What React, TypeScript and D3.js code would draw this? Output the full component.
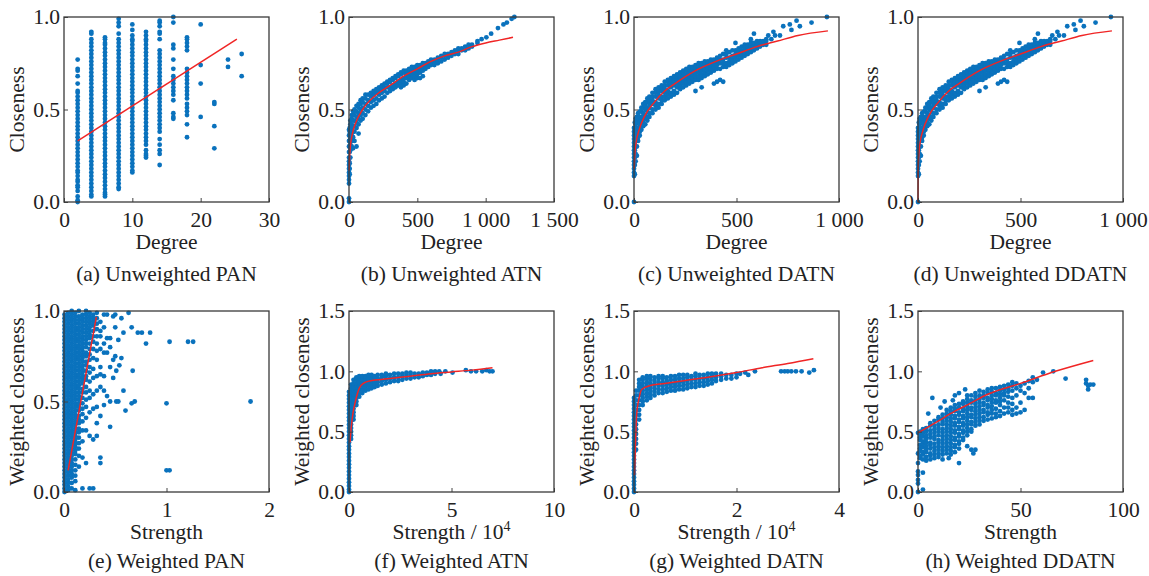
import { useEffect, useRef } from "react";
import * as d3 from "d3";

// each entry: [x value, closeness values x100]
type Col = [number, number[]];
type Pt = [number, number];

// (a) unweighted PAN, degree -> closeness
const uwPan: Col[] = [
  [2, [0, 1, 3, 6, 8, 9, 11, 12, 14, 16, 17, 19, 21, 23, 25, 27, 29, 31, 33, 35, 37, 39, 41, 43, 45, 47, 49, 51, 53, 55, 57, 59, 60, 64, 68, 71, 72, 77]],
  [4, [3, 4, 6, 8, 10, 12, 14, 16, 18, 20, 22, 24, 26, 28, 30, 32, 34, 36, 38, 40, 42, 44, 46, 48, 50, 52, 54, 56, 58, 60, 62, 64, 66, 68, 70, 72, 74, 76, 78, 80, 82, 84, 86, 88, 91, 92]],
  [6, [3, 4, 5, 7, 9, 11, 13, 15, 17, 19, 21, 23, 25, 27, 29, 31, 33, 35, 37, 39, 41, 43, 45, 47, 49, 51, 53, 55, 57, 59, 61, 63, 65, 67, 69, 71, 73, 75, 77, 79, 81, 83, 85, 86, 88, 89]],
  [8, [7, 8, 10, 12, 14, 16, 18, 20, 22, 24, 26, 28, 30, 32, 34, 36, 38, 40, 42, 44, 46, 48, 50, 52, 54, 56, 58, 60, 62, 64, 66, 68, 70, 72, 74, 76, 78, 80, 82, 84, 86, 88, 91, 95, 97, 99]],
  [10, [16, 17, 19, 21, 23, 25, 27, 29, 31, 33, 35, 37, 39, 41, 43, 45, 47, 49, 51, 53, 55, 57, 59, 61, 63, 65, 67, 69, 71, 73, 75, 77, 79, 81, 83, 85, 87, 88, 90, 93, 96]],
  [12, [24, 25, 26, 28, 31, 33, 35, 37, 39, 41, 43, 45, 47, 49, 51, 53, 55, 57, 59, 61, 63, 65, 67, 69, 71, 73, 75, 77, 79, 81, 83, 85, 87, 88, 90, 92]],
  [14, [20, 26, 28, 31, 34, 38, 40, 42, 44, 46, 48, 50, 52, 54, 56, 58, 60, 62, 64, 66, 68, 70, 72, 74, 76, 78, 80, 82, 88, 91, 92, 95, 97, 98]],
  [16, [45, 46, 48, 55, 58, 60, 62, 64, 66, 68, 72, 77, 83, 85, 97, 100]],
  [18, [35, 42, 47, 49, 51, 53, 56, 58, 60, 62, 64, 66, 68, 70, 72, 82, 84, 86, 88, 89]],
  [20, [46, 64, 74, 96]],
  [22, [29, 41, 53, 54]],
  [24, [73, 77]],
  [26, [68, 80]],
];
const uwPanFit: Pt[] = [[2, 0.33], [25.3, 0.88]];

// (b) unweighted ATN
const uwAtn: Col[] = [
  [0, [0, 2, 10, 12, 14, 16, 18, 20, 22, 24, 27, 30, 33, 36, 39]],
  [5, [15, 18, 21, 24, 27, 30, 33, 36, 38, 40]],
  [10, [24, 28, 31, 34, 37, 40, 42, 44]],
  [20, [30, 33, 36, 39, 42, 45, 47]],
  [30, [29, 35, 38, 41, 44, 47, 49]],
  [40, [33, 38, 41, 44, 47, 50]],
  [55, [30, 40, 43, 46, 49, 52]],
  [70, [37, 42, 45, 48, 51, 53]],
  [85, [44, 47, 50, 53, 55]],
  [100, [45, 48, 51, 54, 56]],
  [120, [47, 50, 53, 56, 58]],
  [140, [49, 52, 55, 58]],
  [160, [51, 54, 57, 59]],
  [180, [52, 55, 58, 60]],
  [200, [53, 56, 59, 61]],
  [220, [55, 58, 60, 62]],
  [240, [56, 59, 61, 63]],
  [260, [57, 60, 62, 64]],
  [280, [59, 62, 64, 65]],
  [300, [60, 62, 65, 66]],
  [320, [61, 63, 66, 67]],
  [340, [62, 64, 67, 68]],
  [360, [63, 65, 68, 69]],
  [380, [62, 64, 66, 69, 70]],
  [400, [63, 65, 67, 70, 71]],
  [420, [64, 67, 69, 71]],
  [440, [66, 68, 70, 72]],
  [460, [67, 69, 71, 73]],
  [480, [66, 68, 70, 72, 73]],
  [500, [67, 69, 71, 73, 74]],
  [520, [67, 70, 72, 74]],
  [540, [68, 71, 73, 75]],
  [560, [72, 74, 75]],
  [580, [73, 75, 76]],
  [600, [74, 75, 77]],
  [625, [74, 76, 77]],
  [650, [75, 77, 78]],
  [675, [76, 78, 79]],
  [700, [77, 79, 80]],
  [725, [78, 80]],
  [750, [79, 81]],
  [775, [80, 82]],
  [800, [80, 82, 83]],
  [825, [82, 83]],
  [850, [82, 84]],
  [875, [83, 85]],
  [900, [84, 85]],
  [940, [86, 87]],
  [970, [88]],
  [1005, [89]],
  [1040, [91]],
  [1090, [94]],
  [1130, [96]],
  [1155, [97]],
  [1190, [99]],
  [1210, [100]],
];
const uwAtnFit: Pt[] = [
  [1, 0.17], [5, 0.25], [10, 0.3], [25, 0.37], [50, 0.43], [100, 0.5], [200, 0.58], [300, 0.63],
  [400, 0.68], [500, 0.72], [600, 0.76], [700, 0.79], [800, 0.81], [900, 0.84], [1000, 0.86], [1100, 0.875], [1200, 0.89],
];

// (c) unweighted DATN
const uwDatn: Col[] = [
  [0, [0, 14, 16, 18, 20, 22, 24, 26, 28, 30, 32, 34, 36, 38, 40]],
  [4, [15, 20, 24, 28, 31, 34, 37, 40, 43]],
  [8, [22, 26, 30, 33, 36, 39, 42, 45]],
  [14, [25, 30, 34, 37, 40, 43, 46]],
  [20, [33, 35, 38, 40, 43, 45, 48]],
  [28, [36, 38, 41, 43, 46, 49]],
  [36, [39, 41, 44, 46, 49, 51]],
  [45, [41, 43, 46, 48, 51, 53]],
  [55, [42, 45, 47, 50, 52, 54]],
  [65, [44, 46, 49, 51, 54, 56]],
  [75, [46, 48, 51, 53, 55, 57]],
  [90, [48, 50, 53, 55, 57, 59]],
  [105, [50, 52, 54, 57, 59, 61]],
  [120, [51, 53, 56, 58, 60, 62]],
  [135, [53, 55, 57, 60, 62, 63]],
  [150, [55, 57, 59, 61, 63, 65]],
  [165, [56, 58, 60, 63, 65, 66]],
  [180, [57, 59, 62, 64, 66, 67]],
  [195, [58, 60, 63, 65, 67, 68]],
  [210, [59, 62, 64, 66, 68, 69]],
  [225, [61, 63, 65, 67, 69, 70]],
  [240, [62, 64, 66, 68, 70, 71]],
  [255, [63, 65, 67, 69, 71, 72]],
  [270, [64, 66, 68, 70, 72, 73]],
  [285, [65, 67, 69, 71, 73]],
  [300, [60, 66, 68, 70, 72, 74]],
  [315, [66, 68, 70, 72, 74, 75]],
  [330, [62, 67, 69, 71, 73, 75]],
  [345, [68, 70, 72, 74, 76]],
  [360, [69, 71, 73, 75, 76]],
  [375, [70, 72, 74, 76, 77]],
  [390, [64, 71, 73, 75, 77]],
  [405, [65, 72, 74, 76, 78]],
  [420, [66, 72, 75, 77, 79]],
  [435, [65, 73, 75, 77, 80]],
  [450, [73, 75, 78, 80, 82]],
  [465, [74, 76, 78, 81]],
  [480, [75, 77, 79, 82]],
  [495, [76, 78, 80, 82, 86]],
  [510, [77, 79, 81, 83]],
  [525, [78, 80, 82, 84]],
  [540, [79, 81, 83, 85]],
  [555, [80, 82, 84, 85]],
  [570, [81, 83, 85, 86, 88]],
  [585, [82, 84, 86, 91]],
  [600, [83, 85, 86, 87]],
  [615, [84, 86, 87]],
  [630, [85, 86, 87]],
  [645, [85, 87, 88]],
  [655, [90]],
  [670, [88]],
  [680, [92]],
  [688, [90]],
  [712, [90]],
  [728, [95]],
  [760, [96]],
  [768, [93]],
  [793, [98]],
  [809, [95]],
  [866, [97]],
  [941, [100]],
];
const uwDatnFit: Pt[] = [
  [1, 0.18], [5, 0.27], [10, 0.32], [25, 0.39], [50, 0.46], [100, 0.54], [150, 0.6], [200, 0.64],
  [300, 0.71], [400, 0.76], [500, 0.8], [600, 0.84], [700, 0.87], [800, 0.9], [946, 0.925],
];

// (d) unweighted DDATN (same scatter as DATN, fit starts at origin)
const uwDdatn: Col[] = uwDatn;
const uwDdatnFit: Pt[] = [
  [0, 0], [1, 0.18], [5, 0.27], [10, 0.32], [25, 0.39], [50, 0.46], [100, 0.54], [150, 0.6], [200, 0.64],
  [300, 0.71], [400, 0.76], [500, 0.8], [600, 0.84], [700, 0.87], [800, 0.9], [946, 0.925],
];

// (e) weighted PAN, strength -> weighted closeness
const wPan: Col[] = [
  [0.005, [0, 2, 4, 6, 8, 10, 12, 14, 16, 18, 20, 22, 24, 26, 28, 30, 32, 34, 36, 38, 40, 42, 44, 46, 48, 50, 52, 54, 56, 58, 60, 62, 64, 66, 68, 70, 72, 74, 76, 78, 80, 82, 84, 86, 88, 90, 92, 94, 96, 98]],
  [0.04, [1, 3, 5, 7, 9, 11, 13, 15, 17, 19, 21, 23, 25, 27, 29, 31, 33, 35, 37, 39, 41, 43, 45, 47, 49, 51, 53, 55, 57, 59, 61, 63, 65, 67, 69, 71, 73, 75, 77, 79, 81, 83, 85, 87, 89, 91, 93, 95, 97, 99]],
  [0.075, [2, 5, 8, 10, 12, 14, 16, 18, 20, 22, 24, 26, 28, 30, 32, 34, 36, 38, 40, 42, 44, 46, 48, 50, 52, 54, 56, 58, 60, 62, 64, 66, 68, 70, 72, 74, 76, 78, 80, 82, 84, 86, 88, 90, 92, 94, 96, 98, 100]],
  [0.11, [1, 6, 9, 12, 15, 18, 21, 23, 25, 27, 29, 31, 33, 35, 37, 39, 41, 43, 45, 47, 49, 51, 53, 55, 57, 59, 61, 63, 65, 67, 69, 71, 73, 75, 77, 79, 81, 83, 85, 87, 89, 91, 93, 95, 97, 99]],
  [0.145, [14, 20, 24, 27, 30, 33, 35, 38, 40, 42, 45, 47, 49, 51, 53, 55, 57, 59, 61, 63, 65, 67, 69, 71, 73, 75, 77, 79, 81, 83, 85, 87, 89, 91, 93, 95, 97, 100]],
  [0.18, [2, 19, 28, 34, 39, 43, 46, 49, 52, 55, 57, 60, 62, 64, 66, 68, 70, 72, 74, 76, 78, 80, 82, 84, 86, 88, 90, 92, 94, 96, 98]],
  [0.215, [16, 34, 41, 47, 51, 55, 58, 62, 64, 67, 70, 72, 75, 77, 80, 82, 84, 86, 88, 90, 92, 94, 96, 98, 100]],
  [0.25, [2, 31, 44, 52, 56, 61, 66, 69, 73, 76, 79, 82, 85, 87, 89, 91, 93, 95, 97, 99]],
  [0.285, [2, 29, 46, 54, 63, 68, 74, 79, 83, 86, 89, 92, 94, 96, 98]],
  [0.32, [31, 38, 47, 56, 64, 73, 78, 82, 86, 90, 93, 96, 99]],
  [0.355, [16, 19, 42, 58, 65, 69, 79, 86, 89, 94]],
  [0.39, [48, 56, 64, 77, 82, 91, 98]],
  [0.42, [53, 77, 85, 98]],
  [0.45, [36, 50, 69, 80, 85]],
  [0.48, [63, 73, 97]],
  [0.5, [75, 91, 98]],
  [0.51, [50, 67]],
  [0.53, [50, 84]],
  [0.54, [70]],
  [0.56, [74, 96]],
  [0.58, [56, 88]],
  [0.6, [45]],
  [0.63, [99]],
  [0.66, [49, 91]],
  [0.67, [67]],
  [0.69, [50]],
  [0.72, [88]],
  [0.76, [88]],
  [0.8, [82]],
  [0.84, [88]],
  [1.0, [12, 49]],
  [1.03, [12, 83]],
  [1.21, [83]],
  [1.26, [83]],
  [1.82, [50]],
];
const wPanFit: Pt[] = [[0.04, 0.12], [0.316, 0.967]];

// (f) weighted ATN, strength / 10^4
const wAtn: Col[] = [
  [0, [0, 2, 5, 8, 11, 14, 17, 20, 23, 26, 29, 32, 35, 38, 41, 44, 47, 50, 53, 56, 59, 62, 65, 68, 71, 74, 77, 80, 83]],
  [0.1, [44, 47, 50, 53, 56, 59, 62, 65, 68, 71, 74, 77, 80, 83, 86, 89]],
  [0.22, [60, 63, 66, 69, 72, 75, 78, 81, 84, 87, 90, 93]],
  [0.36, [72, 75, 78, 81, 84, 87, 90, 93, 95]],
  [0.5, [79, 82, 85, 88, 91, 94, 96]],
  [0.65, [82, 85, 88, 91, 94, 96]],
  [0.8, [84, 87, 90, 93, 96]],
  [0.95, [85, 88, 91, 94, 97]],
  [1.1, [86, 89, 92, 95, 97]],
  [1.25, [87, 90, 93, 96]],
  [1.4, [88, 91, 94, 97]],
  [1.6, [89, 92, 95, 97]],
  [1.8, [90, 93, 96, 98]],
  [2.0, [91, 94, 97]],
  [2.2, [92, 95, 98]],
  [2.4, [92, 95, 98]],
  [2.6, [93, 96, 98]],
  [2.8, [94, 97, 99]],
  [3.0, [94, 97, 99]],
  [3.2, [95, 98]],
  [3.4, [95, 98]],
  [3.6, [96, 99]],
  [3.8, [97, 99]],
  [4.0, [97, 100]],
  [4.2, [98, 100]],
  [4.4, [100]],
  [4.47, [98]],
  [4.7, [100]],
  [5.05, [99]],
  [5.7, [101]],
  [5.95, [100]],
  [6.2, [100]],
  [6.5, [100]],
  [6.7, [101]],
  [6.86, [100]],
  [7.0, [100]],
];
const wAtnFit: Pt[] = [
  [0.05, 0.41], [0.1, 0.52], [0.2, 0.66], [0.3, 0.74], [0.4, 0.81], [0.5, 0.86], [0.7, 0.9], [1, 0.92],
  [2, 0.94], [3, 0.96], [4, 0.98], [5, 0.995], [6, 1.01], [7, 1.03],
];

// (g) weighted DATN, strength / 10^4
const wDatn: Col[] = [
  [0, [0, 3, 6, 9, 12, 15, 18, 21, 24, 27, 30, 33, 36, 39, 42, 45, 48, 51, 54, 57, 60, 63, 66, 69, 72, 75, 78]],
  [0.04, [35, 40, 44, 48, 52, 56, 60, 64, 68, 72, 76, 80, 84]],
  [0.1, [60, 64, 68, 72, 76, 80, 84, 87, 90, 93]],
  [0.17, [72, 75, 78, 81, 84, 87, 90, 93, 95]],
  [0.25, [76, 79, 82, 85, 88, 91, 94, 96]],
  [0.32, [78, 81, 84, 87, 90, 93, 96]],
  [0.4, [80, 83, 86, 89, 92, 95]],
  [0.48, [82, 85, 88, 91, 94, 96]],
  [0.56, [82, 85, 88, 91, 94, 96]],
  [0.64, [83, 86, 89, 92, 95]],
  [0.72, [84, 87, 90, 93, 96]],
  [0.8, [84, 87, 90, 93, 96]],
  [0.88, [85, 88, 91, 94, 97]],
  [0.96, [85, 88, 91, 94, 97]],
  [1.04, [86, 89, 92, 95, 97]],
  [1.12, [87, 90, 93, 96]],
  [1.2, [87, 90, 93, 96, 98]],
  [1.28, [88, 91, 94, 97]],
  [1.36, [88, 91, 94, 97]],
  [1.44, [89, 92, 95, 98]],
  [1.52, [90, 93, 96, 98]],
  [1.6, [92, 95, 98]],
  [1.7, [93, 96, 98]],
  [1.8, [94, 97]],
  [1.9, [94, 97]],
  [2.0, [95, 98]],
  [2.07, [98]],
  [2.17, [99]],
  [2.23, [97]],
  [2.36, [100]],
  [2.87, [100]],
  [2.94, [100]],
  [3.0, [100]],
  [3.07, [100]],
  [3.16, [100]],
  [3.27, [100]],
  [3.42, [99]],
  [3.51, [101]],
];
const wDatnFit: Pt[] = [
  [0.01, 0.14], [0.03, 0.4], [0.05, 0.63], [0.1, 0.78], [0.15, 0.85], [0.3, 0.88], [0.6, 0.9], [1, 0.925],
  [1.5, 0.955], [2, 0.99], [2.5, 1.03], [3, 1.065], [3.5, 1.105],
];

// (h) weighted DDATN, strength
const wDdatn: Col[] = [
  [0, [0, 7, 10, 14, 17, 24, 32, 49]],
  [1, [28, 30, 34, 36, 39, 43, 45, 48, 50]],
  [2.4, [2, 16, 27, 31, 33, 37, 40, 42, 46, 49, 52]],
  [4, [26, 29, 33, 35, 38, 41, 44, 47, 50, 53]],
  [5, [65]],
  [6, [27, 30, 32, 36, 39, 41, 45, 48, 51, 55, 57]],
  [7, [78]],
  [8, [28, 31, 34, 37, 40, 44, 46, 49, 52, 55, 59]],
  [10, [29, 32, 35, 38, 41, 43, 47, 50, 53, 56, 60, 62]],
  [11, [70]],
  [12, [27, 31, 34, 37, 40, 43, 46, 49, 52, 56, 58, 61, 64]],
  [13, [75]],
  [14, [32, 35, 38, 41, 44, 47, 50, 53, 56, 59, 62, 65, 68]],
  [15, [28]],
  [16, [31, 34, 37, 40, 43, 46, 49, 52, 55, 58, 61, 64, 67, 70]],
  [17, [76]],
  [18, [33, 37, 39, 43, 45, 49, 51, 55, 57, 61, 63, 67, 69, 72, 80]],
  [20, [24, 36, 40, 42, 46, 48, 52, 54, 58, 60, 64, 66, 70, 73, 82]],
  [22, [43, 45, 49, 51, 55, 57, 61, 63, 67, 69, 73, 75]],
  [23, [85]],
  [24, [38, 47, 50, 53, 56, 59, 62, 65, 68, 71, 74, 77, 80]],
  [26, [35, 50, 52, 56, 58, 62, 64, 68, 70, 74, 76, 80]],
  [27, [32]],
  [28, [35, 55, 58, 61, 64, 67, 70, 73, 76, 79, 82]],
  [30, [56, 59, 62, 65, 68, 71, 74, 77, 80, 84]],
  [32, [59, 62, 66, 68, 72, 74, 78, 80, 83]],
  [34, [60, 64, 66, 70, 72, 76, 78, 82, 85]],
  [36, [61, 65, 68, 71, 74, 77, 80, 83, 86]],
  [38, [62, 65, 69, 74, 76, 80, 82, 86]],
  [40, [63, 67, 72, 75, 78, 81, 84, 87]],
  [42, [65, 70, 76, 80, 82, 85, 88]],
  [44, [66, 70, 74, 79, 83, 86, 89]],
  [46, [64, 68, 73, 78, 84, 88, 91]],
  [48, [65, 70, 80, 86, 90]],
  [50, [66, 74, 84, 88]],
  [52, [68, 82, 90]],
  [54, [78, 86, 92]],
  [56, [78, 91, 95]],
  [58, [93]],
  [61, [99]],
  [66, [100]],
  [72, [94]],
  [82, [90, 93]],
  [83, [85, 88]],
  [84, [89]],
  [85.5, [89]],
];
const wDdatnFit: Pt[] = [
  [0, 0.49], [10, 0.59], [18, 0.67], [25, 0.73], [34, 0.81], [50, 0.9], [67, 1.0], [85.5, 1.09],
];

// axis ticks
const degTicksPan = [0, 10, 20, 30];
const degTicksAtn = [0, 500, 1000, 1500];
const degTicksDatn = [0, 500, 1000];
const strTicksPan = [0, 1, 2];
const strTicksAtn = [0, 5, 10];
const strTicksDatn = [0, 2, 4];
const strTicksDdatn = [0, 50, 100];
const yTicksTop = [0, 0.5, 1];
const yTicksBottom = [0, 0.5, 1, 1.5];

const captions = [
  "(a) Unweighted PAN", "(b) Unweighted ATN", "(c) Unweighted DATN", "(d) Unweighted DDATN",
  "(e) Weighted PAN", "(f) Weighted ATN", "(g) Weighted DATN", "(h) Weighted DDATN",
];

const panels = [
  { pts: uwPan, fit: uwPanFit, xMax: 30, xTicks: degTicksPan, yMax: 1, yTicks: yTicksTop, xTitle: "Degree", yTitle: "Closeness" },
  { pts: uwAtn, fit: uwAtnFit, xMax: 1500, xTicks: degTicksAtn, yMax: 1, yTicks: yTicksTop, xTitle: "Degree", yTitle: "Closeness" },
  { pts: uwDatn, fit: uwDatnFit, xMax: 1000, xTicks: degTicksDatn, yMax: 1, yTicks: yTicksTop, xTitle: "Degree", yTitle: "Closeness" },
  { pts: uwDdatn, fit: uwDdatnFit, xMax: 1000, xTicks: degTicksDatn, yMax: 1, yTicks: yTicksTop, xTitle: "Degree", yTitle: "Closeness" },
  { pts: wPan, fit: wPanFit, xMax: 2, xTicks: strTicksPan, yMax: 1, yTicks: yTicksTop, xTitle: "Strength", yTitle: "Weighted closeness" },
  { pts: wAtn, fit: wAtnFit, xMax: 10, xTicks: strTicksAtn, yMax: 1.5, yTicks: yTicksBottom, xTitle: "Strength / 10", sup: "4", yTitle: "Weighted closeness" },
  { pts: wDatn, fit: wDatnFit, xMax: 4, xTicks: strTicksDatn, yMax: 1.5, yTicks: yTicksBottom, xTitle: "Strength / 10", sup: "4", yTitle: "Weighted closeness" },
  { pts: wDdatn, fit: wDdatnFit, xMax: 100, xTicks: strTicksDdatn, yMax: 1.5, yTicks: yTicksBottom, xTitle: "Strength", yTitle: "Weighted closeness" },
];

const W = 1149;
const H = 576;
const BOX_W = 205;
const COL_X = [64, 349, 634, 918];
const ROW_Y = [[17, 202], [311, 492]];
const BLUE = "#0a72bd";
const RED = "#f02525";
const INK = "#222";
const FONT = '"Liberation Serif", "Times New Roman", Times, serif';
const FS = 21.5;

const spaceFmt = d3
  .formatLocale({ decimal: ".", thousands: " ", grouping: [3], currency: ["", ""] })
  .format(",");

export default function App() {
  const svgRef = useRef<SVGSVGElement>(null);

  useEffect(() => {
    const svg = d3.select(svgRef.current);
    svg.selectAll("*").remove();

    panels.forEach((p, i) => {
      const left = COL_X[i % 4];
      const [top, bottom] = ROW_Y[Math.floor(i / 4)];
      const x = d3.scaleLinear().domain([0, p.xMax]).range([left, left + BOX_W]);
      const y = d3.scaleLinear().domain([0, p.yMax]).range([bottom, top]);
      const g = svg.append("g");

      const flat: Pt[] = p.pts.flatMap(([xv, ys]) => ys.map((v) => [xv, v / 100] as Pt));
      g.append("g")
        .selectAll("circle")
        .data(flat)
        .join("circle")
        .attr("cx", (d) => x(d[0]))
        .attr("cy", (d) => y(d[1]))
        .attr("r", 2.4)
        .attr("fill", BLUE);

      const line = d3
        .line<Pt>()
        .x((d) => x(d[0]))
        .y((d) => y(d[1]))
        .curve(d3.curveMonotoneX);
      g.append("path")
        .datum(p.fit)
        .attr("d", line)
        .attr("fill", "none")
        .attr("stroke", RED)
        .attr("stroke-width", 1.5);

      const xAxis = g
        .append("g")
        .attr("transform", `translate(0,${bottom})`)
        .call(d3.axisBottom(x).tickValues(p.xTicks).tickSize(-4).tickPadding(10).tickFormat((v) => spaceFmt(v as number)));
      const yAxis = g
        .append("g")
        .attr("transform", `translate(${left},0)`)
        .call(d3.axisLeft(y).tickValues(p.yTicks).tickSize(-4).tickPadding(4).tickFormat(d3.format(".1f")));
      [xAxis, yAxis].forEach((a) => {
        a.select(".domain").remove();
        a.attr("font-family", FONT).attr("font-size", FS).attr("color", INK);
        a.selectAll("line").attr("stroke", "#444");
      });

      g.append("rect")
        .attr("x", left)
        .attr("y", top)
        .attr("width", BOX_W)
        .attr("height", bottom - top)
        .attr("fill", "none")
        .attr("stroke", "#3a3a3a")
        .attr("stroke-width", 1.3);

      const cx = left + BOX_W / 2;
      const xt = g
        .append("text")
        .attr("x", cx)
        .attr("y", bottom + 47)
        .attr("text-anchor", "middle")
        .attr("font-family", FONT)
        .attr("font-size", FS)
        .attr("fill", INK)
        .text(p.xTitle);
      if (p.sup) {
        xt.append("tspan").attr("dy", -8).attr("font-size", 14).text(p.sup);
      }

      g.append("text")
        .attr("transform", `translate(${left - 40},${(top + bottom) / 2}) rotate(-90)`)
        .attr("text-anchor", "middle")
        .attr("font-family", FONT)
        .attr("font-size", FS)
        .attr("fill", INK)
        .text(p.yTitle);

      g.append("text")
        .attr("x", cx)
        .attr("y", i < 4 ? 281 : 568)
        .attr("text-anchor", "middle")
        .attr("font-family", FONT)
        .attr("font-size", FS)
        .attr("fill", INK)
        .text(captions[i]);
    });
  }, []);

  return (
    <svg
      ref={svgRef}
      width={W}
      height={H}
      style={{ position: "absolute", left: 0, top: 0, background: "#fff" }}
    />
  );
}
